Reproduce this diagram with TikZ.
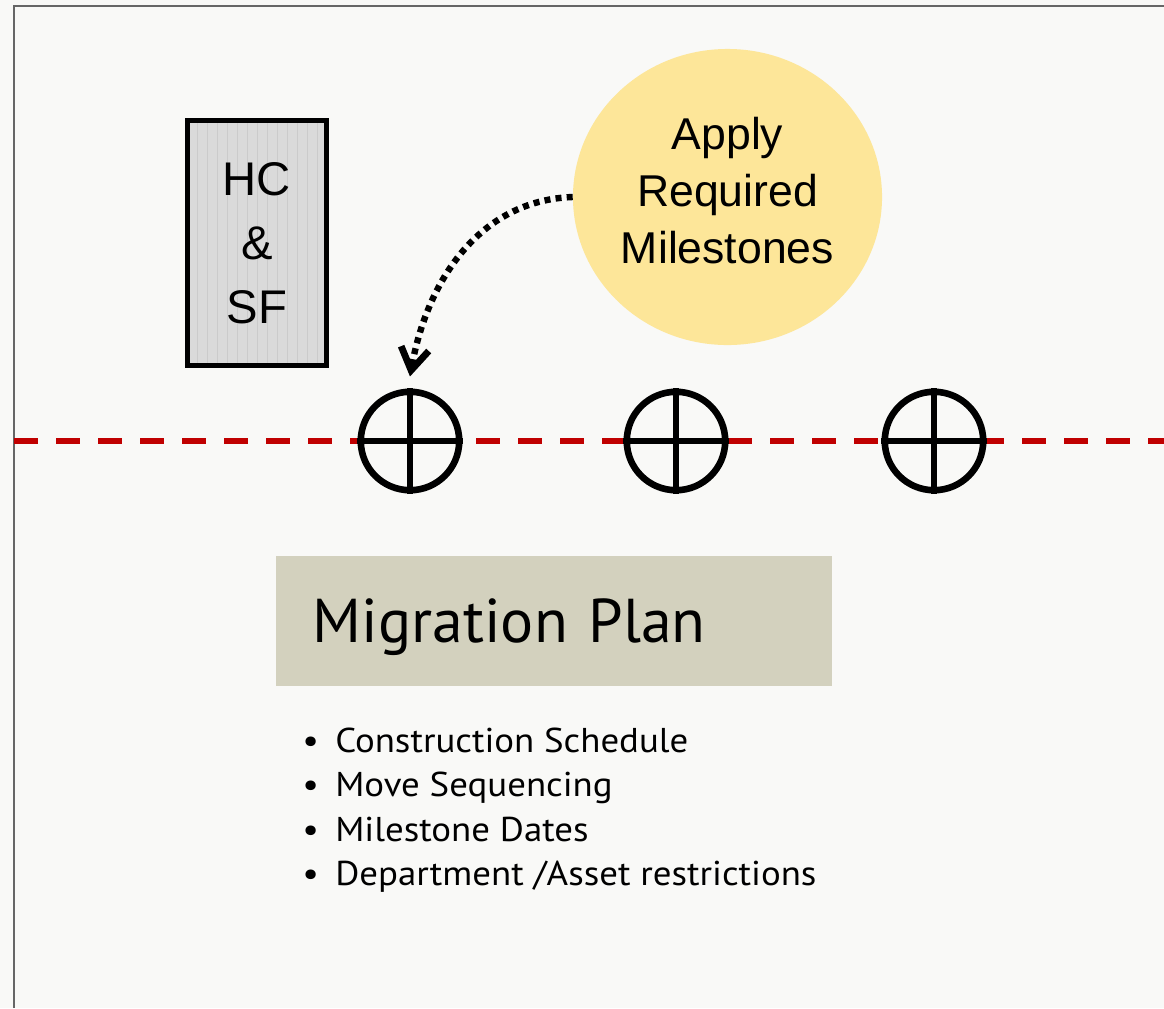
\documentclass[tikz,border=0pt]{standalone}
\usepackage{fontspec}
\setmainfont{Liberation Sans}
\newfontfamily\planfont{PT Sans}
\newfontfamily\listfont[FakeStretch=1.07]{PT Sans}
\usepackage{tikz}
\usetikzlibrary{shapes.geometric, calc, arrows.meta, positioning}
\usepackage{xcolor}

\definecolor{pagebg}{HTML}{F9F9F7}
\definecolor{framegray}{HTML}{666666}
\definecolor{boxgray}{HTML}{DADADA}
\definecolor{stripegray}{HTML}{CBCBCB}
\definecolor{sunyellow}{HTML}{FDE699}
\definecolor{plankhaki}{HTML}{D3D1BE}
\definecolor{lineRed}{HTML}{C00000}

\tikzset{
  hcbox/.style={draw=black, line width=0.13cm, fill=boxgray, minimum width=3.475cm,
    minimum height=6.125cm, align=center, font=\fontsize{33.6}{45.4}\selectfont,
    path picture={
      \foreach \sx in {-6,...,6}
        \draw[stripegray, line width=0.02cm]
          ($(path picture bounding box.center)+(\sx*0.25cm,-3.2cm)$) -- ++(0,6.4cm);
    }},
  goal/.style={ellipse, fill=sunyellow, minimum width=7.725cm, minimum height=7.4cm,
    inner sep=0pt, text depth=0.35cm, align=center, font=\fontsize{31.7}{40.6}\selectfont},
  mark box/.style={circle, draw=black, line width=0.165cm, minimum size=2.46cm, inner sep=0pt},
  cross/.style={draw=black, line width=0.135cm},
  plan/.style={fill=plankhaki, minimum width=13.9cm, minimum height=3.25cm,
    text width=12.05cm, inner xsep=0.925cm, text depth=0pt, align=left,
    font=\planfont\fontsize{44}{50}\selectfont},
  point/.style={inner sep=0pt, font=\listfont\fontsize{24.5}{30}\selectfont}
}

\begin{document}
\begin{tikzpicture}[x=0.025cm, y=-0.025cm]
  % page and its frame
  \fill[pagebg] (0,0) rectangle (1164,1008);
  \useasboundingbox (0,0) rectangle (1164,1008);
  \draw[framegray, line width=0.05cm] (14,1008) -- (14,6) -- (1164,6);

  % timeline
  \draw[lineRed, line width=0.15cm, dash pattern=on 0.6cm off 0.45cm] (14,441) -- (1164,441);

  \node[hcbox] (hcsf) at (257,243) {HC\\\&\\SF};

  \node[goal] (apply) at (727.5,197) {Apply\\Required\\Milestones};

  % milestone markers
  \foreach \mx [count=\i] in {410,676,934} {
    \node[mark box] (m\i) at (\mx,441) {};
    \draw[cross] (m\i.north) -- (m\i.south);
    \draw[cross] (m\i.west) -- (m\i.east);
  }

  \draw[line width=0.16cm, dash pattern=on 0.15cm off 0.13cm,
        -{Straight Barb[length=0.55cm, width=0.7cm, line width=0.17cm]}]
    (apply.west) to[out=182, in=80] ($(m1.north)+(0,-12)$);

  \node[plan] (planbox) at (554,621) {Migration Plan};

  % list under the plan
  \foreach \txt [count=\i from 0] in {Construction Schedule, Move Sequencing,
      Milestone Dates, Department /Asset restrictions}
    \node[point, anchor=base west] (pt\i) at (302,752+44.5*\i)
      {\makebox[0.825cm][l]{\textbullet}\txt};
\end{tikzpicture}
\end{document}
